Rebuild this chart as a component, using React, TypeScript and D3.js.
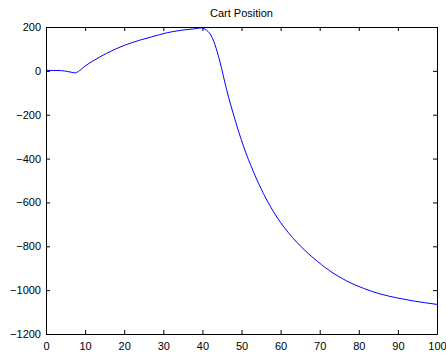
import React, { useRef, useEffect } from "react";
import * as d3 from "d3";

const title = "Cart Position";
const xs = [0, 2, 4, 5.5, 7, 7.5, 8.5, 10, 12, 15.5, 20, 24, 27, 31, 35, 38, 39.8, 41, 42, 43.2, 44.5, 46.2, 48.3, 50.5, 53, 55.6, 58.1, 60, 62, 64.1, 66, 68.3, 72.6, 76.9, 81.2, 85.4, 89.7, 93.9, 100];
const ys = [2, 2, 1, -3, -8, -9, 0, 22, 45, 80, 116, 140, 155, 174, 186, 192, 196, 186, 168, 120, 40, -86, -220, -343, -458, -559, -640, -692, -738, -781, -815, -852, -912, -958, -992, -1017, -1035, -1049, -1065];
const xTicks = [0, 10, 20, 30, 40, 50, 60, 70, 80, 90, 100];
const yTicks = [200, 0, -200, -400, -600, -800, -1000, -1200];

const App = () => {
	const ref = useRef(null);
	const left = 46, right = 437, top = 27, bottom = 334;

	useEffect(() => {
		const svg = d3.select(ref.current);
		svg.selectChildren().remove();

		const x = d3.scaleLinear().domain([0, 100]).range([left, right]);
		const y = d3.scaleLinear().domain([-1200, 200]).range([bottom, top]);

		// title
		svg.append("text")
			.attr("x", (left + right) / 2)
			.attr("y", 17)
			.attr("text-anchor", "middle")
			.style("font-family", "Liberation Sans, Arial, sans-serif")
			.style("font-size", "11px")
			.text(title);

		// the curve
		const data = xs.map((d, i) => [d, ys[i]]);
		svg.append("path")
			.datum(data)
			.attr("fill", "none")
			.attr("stroke", "#0000ff")
			.attr("stroke-width", 1)
			.attr("d", d3.line().x(d => x(d[0])).y(d => y(d[1])).curve(d3.curveMonotoneX));

		// axes: ticks point inward, mirrored on top/right
		const tl = 4;
		const fmt = d3.format("d");
		svg.append("g").attr("transform", `translate(0,${bottom})`)
			.call(d3.axisBottom(x).tickValues(xTicks).tickFormat(fmt).tickSizeInner(-tl).tickSizeOuter(0).tickPadding(8));
		svg.append("g").attr("transform", `translate(0,${top})`)
			.call(d3.axisTop(x).tickValues(xTicks).tickSizeInner(-tl).tickSizeOuter(0).tickFormat(() => ""));
		svg.append("g").attr("transform", `translate(${left},0)`)
			.call(d3.axisLeft(y).tickValues(yTicks).tickFormat(fmt).tickSizeInner(-tl).tickSizeOuter(0).tickPadding(5));
		svg.append("g").attr("transform", `translate(${right},0)`)
			.call(d3.axisRight(y).tickValues(yTicks).tickSizeInner(-tl).tickSizeOuter(0).tickFormat(() => ""));

		svg.selectAll(".domain").attr("stroke", "#000");
		svg.selectAll(".tick line").attr("stroke", "#000");
		svg.selectAll(".tick text")
			.attr("fill", "#000")
			.style("font-family", "Liberation Sans, Arial, sans-serif")
			.style("font-size", "11px");
	}, []);

	return (
		<svg ref={ref} width={446} height={356}
			style={{ position: "absolute", left: 0, top: 0, background: "#fff" }}>
		</svg>
	);
};

export default App;
